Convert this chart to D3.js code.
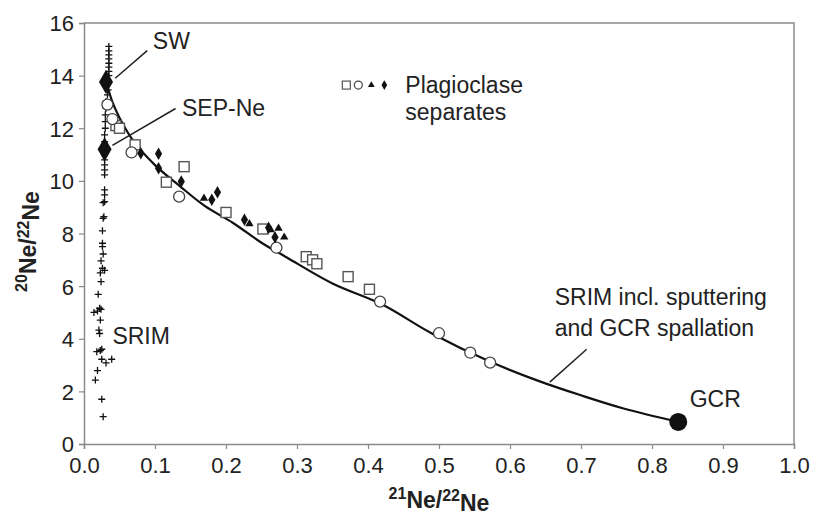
<!DOCTYPE html>
<html>
<head>
<meta charset="utf-8">
<script src="https://cdn.jsdelivr.net/npm/d3@7"></script>
<style>
  body { margin: 0; background: #fff; }
  svg { font-family: "Liberation Sans", Arial, sans-serif; }
</style>
</head>
<body>
<div id="chart"></div>
<script>
// SRIM model points (crosses)
const srimPoints = [
  [0.035, 15.11], [0.035, 14.94], [0.035, 14.79], [0.035, 14.64], [0.035, 14.47],
  [0.035, 14.32], [0.035, 14.16], [0.035, 14.0], [0.034, 13.46], [0.033, 13.27],
  [0.031, 13.02], [0.031, 12.76], [0.030, 12.51], [0.030, 12.25], [0.030, 12.0],
  [0.029, 11.75], [0.029, 11.49], [0.029, 10.99], [0.029, 10.8], [0.029, 10.61],
  [0.029, 10.42], [0.029, 10.23], [0.029, 9.66], [0.029, 9.47], [0.029, 9.21],
  [0.028, 8.64], [0.027, 9.17], [0.027, 8.58], [0.026, 8.1], [0.026, 7.63],
  [0.026, 7.5], [0.027, 7.22], [0.024, 6.96], [0.026, 6.68], [0.029, 6.6],
  [0.023, 6.5], [0.024, 6.17], [0.020, 5.69], [0.022, 5.16], [0.024, 5.12],
  [0.019, 5.05], [0.014, 5.0], [0.023, 4.71], [0.021, 4.33], [0.022, 4.2],
  [0.018, 3.51], [0.023, 3.55], [0.025, 3.6], [0.025, 3.22], [0.031, 3.08],
  [0.039, 3.22], [0.019, 2.79], [0.016, 2.43], [0.025, 1.7], [0.027, 1.04]
];

// Model curve: SRIM incl. sputtering and GCR spallation
const curvePoints = [
  [0.032, 13.7], [0.04, 13.0], [0.05, 12.4], [0.07, 11.5], [0.1, 10.6],
  [0.135, 9.8], [0.17, 9.05], [0.21, 8.4], [0.25, 7.65], [0.285, 7.1],
  [0.35, 6.1], [0.42, 5.3], [0.49, 4.2], [0.57, 3.15], [0.64, 2.4],
  [0.70, 1.85], [0.76, 1.35], [0.837, 0.84]
];

// Plagioclase separates
const squares = [
  [0.045, 12.1], [0.05, 12.0], [0.072, 11.37], [0.116, 9.95], [0.141, 10.54],
  [0.2, 8.8], [0.252, 8.17], [0.313, 7.12], [0.322, 7.0], [0.328, 6.85],
  [0.372, 6.36], [0.402, 5.88]
];
const circles = [
  [0.033, 12.9], [0.04, 12.35], [0.067, 11.08], [0.134, 9.4], [0.271, 7.46],
  [0.417, 5.41], [0.5, 4.21], [0.544, 3.47], [0.572, 3.09]
];
const triangles = [
  [0.169, 9.34], [0.233, 8.37], [0.263, 8.14], [0.282, 7.86], [0.274, 8.2]
];
const diamonds = [
  [0.08, 11.05], [0.105, 11.03], [0.105, 10.48], [0.137, 9.98], [0.18, 9.28],
  [0.188, 9.57], [0.226, 8.52], [0.269, 7.86], [0.26, 8.22]
];

// End members
const endMembers = [
  { name: "SW", x: 0.031, y: 13.76 },
  { name: "SEP-Ne", x: 0.029, y: 11.2 }
];
const gcr = { name: "GCR", x: 0.837, y: 0.84 };

const xTicks = [0, 0.1, 0.2, 0.3, 0.4, 0.5, 0.6, 0.7, 0.8, 0.9, 1.0];
const yTicks = [0, 2, 4, 6, 8, 10, 12, 14, 16];

const W = 814, H = 516;
const margin = { top: 23, right: 20, bottom: 72, left: 84 };
const width = W - margin.left - margin.right;
const height = H - margin.top - margin.bottom;

const svg = d3.select("#chart").append("svg")
  .attr("width", W)
  .attr("height", H);

const g = svg.append("g")
  .attr("transform", "translate(" + margin.left + "," + margin.top + ")");

const x = d3.scaleLinear().domain([0, 1]).range([0, width]);
const y = d3.scaleLinear().domain([0, 16]).range([height, 0]);

const axisColor = "#8a8a8a";

// frame (top and right)
g.append("path")
  .attr("d", "M0,0H" + width + "V" + height)
  .attr("fill", "none")
  .attr("stroke", axisColor)
  .attr("stroke-width", 1.5);

// axes
const xAxis = g.append("g")
  .attr("transform", "translate(0," + height + ")")
  .call(d3.axisBottom(x).tickValues(xTicks).tickFormat(d3.format(".1f")).tickSize(5).tickPadding(8));
const yAxis = g.append("g")
  .call(d3.axisLeft(y).tickValues(yTicks).tickSize(5).tickPadding(5));

[xAxis, yAxis].forEach(a => {
  a.select(".domain").attr("stroke", axisColor).attr("stroke-width", 1.5);
  a.selectAll(".tick line").attr("stroke", axisColor).attr("stroke-width", 1.2);
  a.selectAll(".tick text")
    .attr("fill", "#222")
    .style("font-size", "22px");
});
yAxis.selectAll(".tick text").attr("dy", "0.36em");

// crosses (SRIM)
g.append("g").selectAll("path")
  .data(srimPoints)
  .join("path")
  .attr("transform", d => "translate(" + x(d[0]) + "," + y(d[1]) + ")")
  .attr("d", "M-3.5,0H3.5M0,-3.5V3.5")
  .attr("stroke", "#111")
  .attr("stroke-width", 1.3);

// model curve
const line = d3.line()
  .x(d => x(d[0]))
  .y(d => y(d[1]))
  .curve(d3.curveCatmullRom);

g.append("path")
  .datum(curvePoints)
  .attr("d", line)
  .attr("fill", "none")
  .attr("stroke", "#111")
  .attr("stroke-width", 2.2);

// plagioclase markers
g.append("g").selectAll("rect")
  .data(squares)
  .join("rect")
  .attr("x", d => x(d[0]) - 5)
  .attr("y", d => y(d[1]) - 5)
  .attr("width", 10)
  .attr("height", 10)
  .attr("fill", "#fff")
  .attr("stroke", "#555")
  .attr("stroke-width", 1.4);

g.append("g").selectAll("circle")
  .data(circles)
  .join("circle")
  .attr("cx", d => x(d[0]))
  .attr("cy", d => y(d[1]))
  .attr("r", 5.5)
  .attr("fill", "#fff")
  .attr("stroke", "#444")
  .attr("stroke-width", 1.3);

const triSym = d3.symbol().type(d3.symbolTriangle).size(30);
g.append("g").selectAll("path")
  .data(triangles)
  .join("path")
  .attr("transform", d => "translate(" + x(d[0]) + "," + y(d[1]) + ")")
  .attr("d", triSym)
  .attr("fill", "#111");

const diaSym = d3.symbol().type(d3.symbolDiamond).size(45);
g.append("g").selectAll("path")
  .data(diamonds)
  .join("path")
  .attr("transform", d => "translate(" + x(d[0]) + "," + y(d[1]) + ")")
  .attr("d", diaSym)
  .attr("fill", "#111");

// end members
const bigDia = d3.symbol().type(d3.symbolDiamond).size(170);
g.append("g").selectAll("path")
  .data(endMembers)
  .join("path")
  .attr("transform", d => "translate(" + x(d.x) + "," + y(d.y) + ")")
  .attr("d", bigDia)
  .attr("fill", "#111");

g.append("circle")
  .attr("cx", x(gcr.x))
  .attr("cy", y(gcr.y))
  .attr("r", 9)
  .attr("fill", "#111");

// annotation labels
const labelFont = "23px";
function label(txt, px, py) {
  return g.append("text")
    .attr("x", px)
    .attr("y", py)
    .attr("fill", "#222")
    .style("font-size", labelFont)
    .text(txt);
}
function pointer(x1, y1, x2, y2) {
  g.append("line")
    .attr("x1", x1).attr("y1", y1)
    .attr("x2", x2).attr("y2", y2)
    .attr("stroke", "#222")
    .attr("stroke-width", 1.5);
}

label("SW", x(0.097), y(15.0));
pointer(x(0.044), y(13.9), x(0.089), y(14.95));
label("SEP-Ne", x(0.138), y(12.45));
pointer(x(0.04), y(11.35), x(0.129), y(12.75));
label("SRIM", x(0.04), y(3.8));
label("GCR", x(0.853), y(1.4));
label("SRIM incl. sputtering", x(0.663), y(5.3));
label("and GCR spallation", x(0.663), y(4.1));
pointer(x(0.656), y(2.35), x(0.708), y(3.6));

// legend
const lx = x(0.423), ly = y(13.64);
g.append("rect").attr("x", lx - 42).attr("y", ly - 4).attr("width", 8).attr("height", 8)
  .attr("fill", "#fff").attr("stroke", "#555").attr("stroke-width", 1.2);
g.append("circle").attr("cx", lx - 26).attr("cy", ly).attr("r", 4)
  .attr("fill", "#fff").attr("stroke", "#444").attr("stroke-width", 1.2);
g.append("path").attr("transform", "translate(" + (lx - 13) + "," + ly + ")")
  .attr("d", d3.symbol().type(d3.symbolTriangle).size(20)).attr("fill", "#111");
g.append("path").attr("transform", "translate(" + lx + "," + ly + ")")
  .attr("d", d3.symbol().type(d3.symbolDiamond).size(28)).attr("fill", "#111");
label("Plagioclase", lx + 21, ly + 8);
label("separates", lx + 21, ly + 35);

// axis titles
const xt = svg.append("text")
  .attr("x", margin.left + width / 2)
  .attr("y", 505)
  .attr("text-anchor", "middle")
  .attr("fill", "#222")
  .style("font-size", "23px")
  .style("font-weight", "bold");
xt.append("tspan").attr("dy", "-0.4em").style("font-size", "16px").text("21");
xt.append("tspan").attr("dy", "0.4em").text("Ne/");
xt.append("tspan").attr("dy", "-0.4em").style("font-size", "16px").text("22");
xt.append("tspan").attr("dy", "0.4em").text("Ne");

const yt = svg.append("text")
  .attr("transform", "translate(33," + (margin.top + height / 2 + 8) + ") rotate(-90)")
  .attr("text-anchor", "middle")
  .attr("fill", "#222")
  .style("font-size", "23px")
  .style("font-weight", "bold");
yt.append("tspan").attr("dy", "-0.4em").style("font-size", "16px").text("20");
yt.append("tspan").attr("dy", "0.4em").text("Ne/");
yt.append("tspan").attr("dy", "-0.4em").style("font-size", "16px").text("22");
yt.append("tspan").attr("dy", "0.4em").text("Ne");
</script>
</body>
</html>
